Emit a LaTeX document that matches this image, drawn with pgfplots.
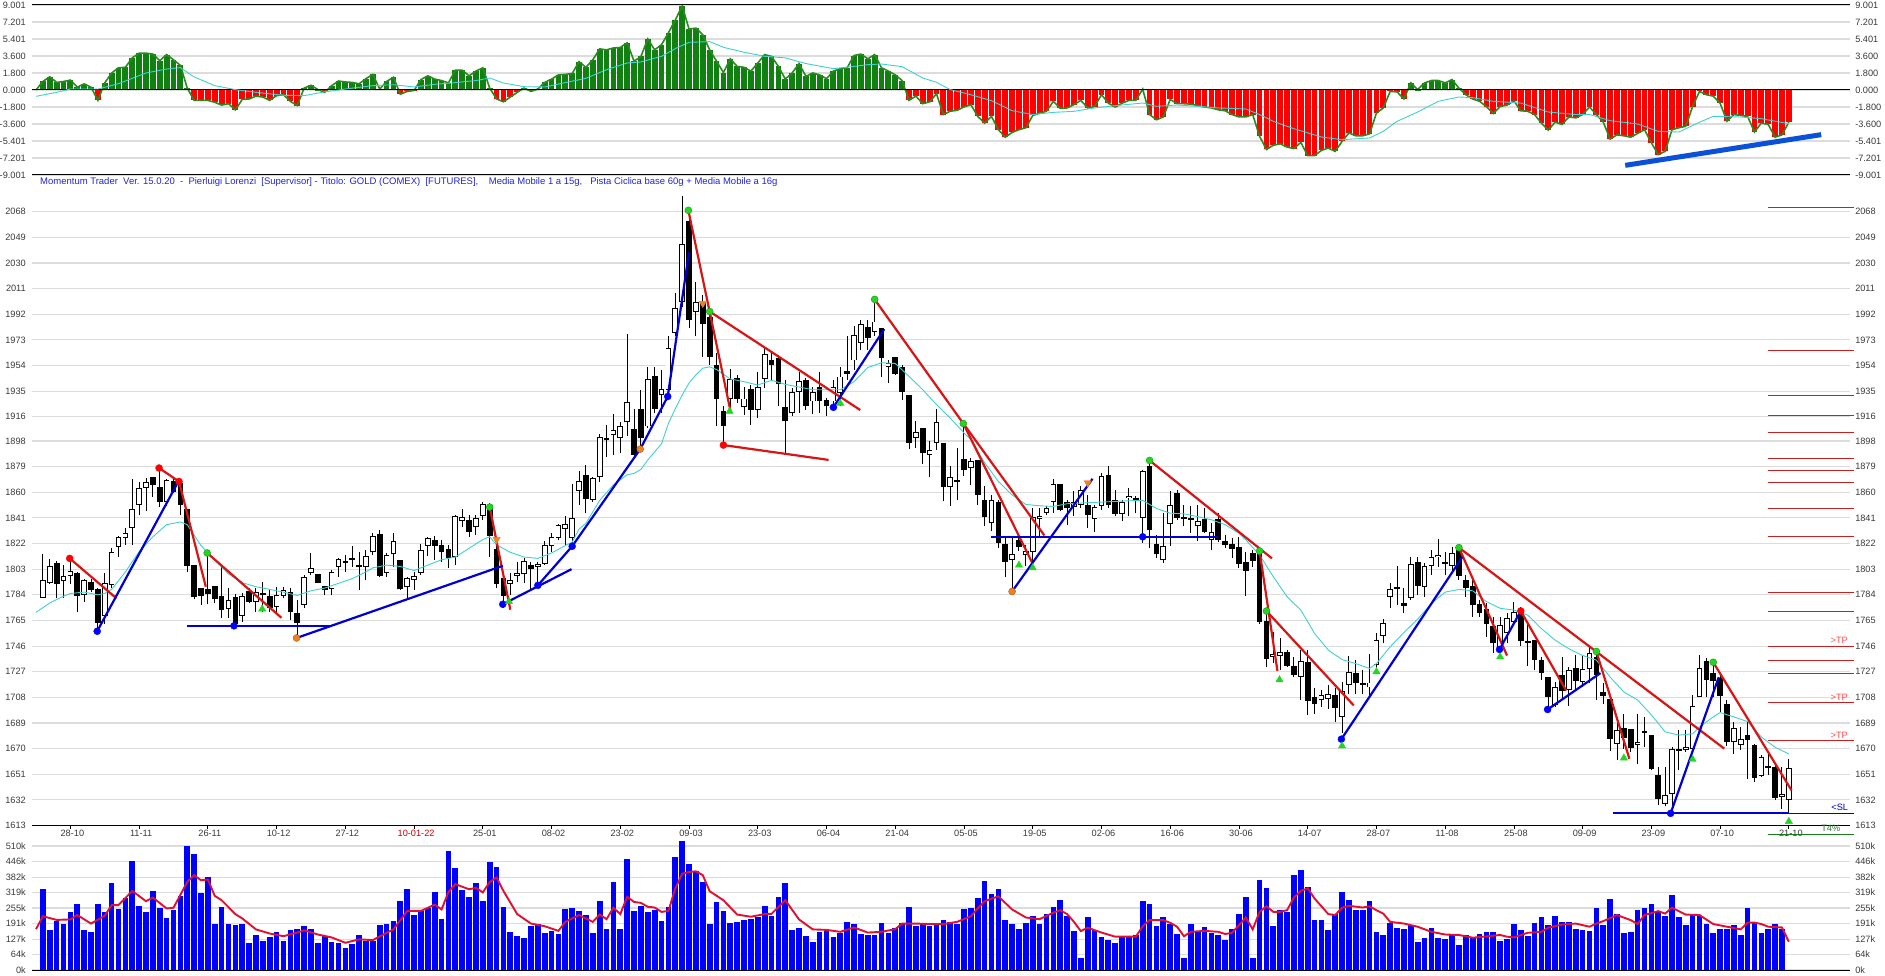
\documentclass[border=0pt]{standalone}
\usepackage{fontspec}
\setmainfont{Liberation Sans}
\usepackage{pgfplots}
\usepackage{pgfplotstable}
\pgfplotsset{compat=1.18}
\definecolor{gridc}{HTML}{DCDCDC}
\definecolor{labc}{HTML}{3A3A3A}
\definecolor{mombar}{HTML}{108010}
\definecolor{momline}{HTML}{2A8A20}
\definecolor{mombad}{HTML}{FF0000}
\definecolor{cyanma}{HTML}{40D0D0}
\definecolor{tblue}{HTML}{0000D0}
\definecolor{tred}{HTML}{D81414}
\definecolor{fatblue}{HTML}{0B50D8}
\definecolor{dgreen}{HTML}{22D622}
\definecolor{dorange}{HTML}{F08020}
\definecolor{headc}{HTML}{2424C8}
\definecolor{tpred}{HTML}{C82020}
\definecolor{volred}{HTML}{E01030}
\definecolor{tfour}{HTML}{1D7A1D}

% ---------- momentum ----------
\pgfplotstableread[row sep=\\]{i v\\
-1 0\\0 0.9\\1 1.4\\2 0.8\\3 0.9\\4 1.05\\5 0.3\\6 0.65\\7 0.3\\8 -1.1\\9 0.75\\10 1.8\\11 2.35\\12 2.4\\13 3.4\\14 3.9\\15 3.9\\16 3.8\\17 3.1\\18 3.75\\19 3.2\\20 2.6\\21 0.2\\22 -1.1\\23 -1.1\\24 -1.1\\25 -1.3\\26 -1.6\\27 -1.45\\28 -2.1\\29 -1.0\\30 -0.95\\31 -0.65\\32 -0.75\\33 -1.1\\34 -0.6\\35 -0.5\\36 -1.2\\37 -1.65\\38 0.2\\39 0.5\\40 0.05\\41 -0.25\\42 0.45\\43 0.95\\44 0.85\\45 0.8\\46 0.65\\47 1.2\\48 1.65\\49 0.1\\50 0.9\\51 1.35\\52 -0.45\\53 -0.15\\54 -0.05\\55 1.1\\56 1.5\\57 1.15\\58 1.0\\59 0.75\\60 2.1\\61 2.1\\62 1.5\\63 2.0\\64 2.35\\65 0.2\\66 -0.95\\67 -1.25\\68 -0.75\\69 -0.25\\70 0.2\\71 -0.15\\72 0.1\\73 0.8\\74 1.15\\75 1.6\\76 1.65\\77 1.75\\78 3.0\\79 2.4\\80 3.2\\81 4.35\\82 4.25\\83 4.45\\84 4.5\\85 5.0\\86 3.05\\87 3.55\\88 5.4\\89 4.25\\90 4.8\\91 6.05\\92 7.4\\93 8.9\\94 6.45\\95 6.55\\96 5.85\\97 4.25\\98 3.05\\99 1.85\\100 3.3\\101 2.5\\102 2.4\\103 2.0\\104 2.85\\105 3.75\\106 3.55\\107 2.5\\108 1.15\\109 1.8\\110 2.8\\111 1.45\\112 1.8\\113 1.6\\114 1.2\\115 2.0\\116 2.25\\117 2.35\\118 3.65\\119 3.8\\120 3.3\\121 3.75\\122 2.35\\123 2.0\\124 1.6\\125 1.0\\126 -1.1\\127 -0.65\\128 -1.45\\129 -1.25\\130 -0.4\\131 -2.6\\132 -2.25\\133 -2.15\\134 -1.8\\135 -1.55\\136 -2.8\\137 -3.5\\138 -2.8\\139 -4.2\\140 -5.0\\141 -4.5\\142 -4.2\\143 -4.0\\144 -2.7\\145 -2.45\\146 -2.25\\147 -1.2\\148 -1.95\\149 -1.9\\150 -1.55\\151 -1.1\\152 -1.9\\153 -1.75\\154 -0.5\\155 -1.4\\156 -1.8\\157 -1.4\\158 -1.1\\159 -1.1\\160 0.1\\161 -2.6\\162 -3.15\\163 -2.85\\164 -1.0\\165 -1.45\\166 -1.45\\167 -1.5\\168 -1.65\\169 -1.8\\170 -1.9\\171 -2.1\\172 -2.2\\173 -2.6\\174 -2.85\\175 -2.85\\176 -2.6\\177 -4.9\\178 -6.3\\179 -5.85\\180 -5.7\\181 -6.05\\182 -6.2\\183 -5.55\\184 -6.95\\185 -6.95\\186 -6.4\\187 -6.15\\188 -6.5\\189 -5.45\\190 -4.55\\191 -4.85\\192 -4.85\\193 -4.65\\194 -2.45\\195 -1.9\\196 -0.15\\197 -0.2\\198 -0.95\\199 0.75\\200 0.05\\201 0.75\\202 1.0\\203 1.0\\204 0.75\\205 1.1\\206 0.2\\207 -0.5\\208 -0.95\\209 -1.2\\210 -1.75\\211 -2.5\\212 -1.75\\213 -1.6\\214 -1.15\\215 -2.2\\216 -2.25\\217 -2.6\\218 -3.5\\219 -4.25\\220 -3.4\\221 -3.65\\222 -2.85\\223 -2.95\\224 -2.6\\225 -1.8\\226 -2.6\\227 -3.4\\228 -5.2\\229 -4.75\\230 -4.85\\231 -5.0\\232 -4.6\\233 -4.2\\234 -5.6\\235 -6.85\\236 -6.5\\237 -4.2\\238 -4.0\\239 -3.85\\240 -1.75\\241 -0.15\\242 -0.5\\243 -0.65\\244 -1.4\\245 -3.3\\246 -2.6\\247 -2.7\\248 -2.8\\249 -4.45\\250 -3.5\\251 -3.65\\252 -5.0\\253 -4.75\\254 -3.4\\
}\mom

% ---------- volume (thousands) ----------
\pgfplotstableread[row sep=\\]{i v\\
0 332\\1 164\\2 201\\3 189\\4 238\\5 271\\6 164\\7 156\\8 271\\9 237\\10 357\\11 250\\12 295\\13 447\\14 262\\15 238\\16 324\\17 254\\18 213\\19 246\\20 303\\21 512\\22 476\\23 316\\24 381\\25 189\\26 258\\27 189\\28 185\\29 189\\30 111\\31 144\\32 119\\33 135\\34 156\\35 119\\36 164\\37 168\\38 180\\39 168\\40 111\\41 139\\42 115\\43 111\\44 90\\45 107\\46 144\\47 119\\48 119\\49 185\\50 189\\51 201\\52 283\\53 332\\54 226\\55 242\\56 254\\57 320\\58 209\\59 488\\60 418\\61 328\\62 299\\63 357\\64 283\\65 443\\66 422\\67 258\\68 156\\69 139\\70 131\\71 180\\72 189\\73 152\\74 160\\75 148\\76 250\\77 254\\78 242\\79 226\\80 152\\81 283\\82 168\\83 361\\84 168\\85 455\\86 242\\87 262\\88 238\\89 246\\90 201\\91 258\\92 463\\93 530\\94 435\\95 406\\96 361\\97 189\\98 279\\99 242\\100 193\\101 197\\102 205\\103 209\\104 216\\105 262\\106 221\\107 299\\108 357\\109 164\\110 172\\111 139\\112 115\\113 156\\114 164\\115 135\\116 152\\117 197\\118 189\\119 148\\120 144\\121 144\\122 193\\123 152\\124 172\\125 193\\126 258\\127 180\\128 189\\129 180\\130 189\\131 205\\132 197\\133 189\\134 250\\135 254\\136 295\\137 365\\138 312\\139 332\\140 205\\141 189\\142 168\\143 193\\144 221\\145 189\\146 230\\147 258\\148 287\\149 221\\150 160\\151 49\\152 217\\153 164\\154 135\\155 123\\156 111\\157 135\\158 135\\159 144\\160 283\\161 271\\162 180\\163 217\\164 189\\165 148\\166 49\\167 189\\168 160\\169 176\\170 152\\171 146\\172 123\\173 168\\174 230\\175 299\\176 49\\177 369\\178 336\\179 180\\180 246\\181 239\\182 390\\183 410\\184 340\\185 205\\186 205\\187 164\\188 230\\189 320\\190 287\\191 246\\192 246\\193 283\\194 156\\195 144\\196 193\\197 172\\198 168\\199 185\\200 115\\201 131\\202 172\\203 131\\204 127\\205 148\\206 103\\207 144\\208 135\\209 148\\210 156\\211 156\\212 119\\213 127\\214 189\\215 164\\216 139\\217 193\\218 217\\219 185\\220 221\\221 197\\222 197\\223 168\\224 164\\225 160\\226 254\\227 185\\228 291\\229 232\\230 152\\231 156\\232 246\\233 254\\234 271\\235 238\\236 221\\237 308\\238 217\\239 185\\240 226\\241 221\\242 189\\243 152\\244 168\\245 168\\246 185\\247 144\\248 254\\249 197\\250 152\\251 168\\252 189\\253 168\\
}\vol

% ---------- candles ----------
\pgfplotstableread[row sep=\\]{i o h l c\\
0 1782 1814 1782 1795\\1 1792.5 1810.6 1791.8 1805.4\\3 1794 1806 1781.4 1797.7\\4 1797.7 1811 1792 1801.4\\6 1784 1796 1779 1795\\9 1768 1800 1762 1792.5\\10 1791.3 1819 1789 1815.7\\11 1819.5 1827.6 1812.3 1826.8\\12 1826.1 1833.8 1820.9 1829.6\\13 1833.3 1869.8 1820.9 1847.6\\14 1850.3 1867.8 1843.1 1862.9\\15 1863.1 1870.8 1846.1 1867.6\\18 1853 1869.6 1850 1869.1\\27 1773.5 1788.8 1766.6 1780.2\\29 1768.3 1785.1 1764.1 1783.2\\31 1778.5 1788.8 1771.6 1786.4\\34 1774.8 1790 1771.6 1783.9\\35 1783.2 1790 1781.4 1787.6\\38 1776.5 1798.7 1774 1797.5\\39 1800.2 1815.3 1798.7 1803.9\\42 1788 1802.4 1783.9 1800.9\\43 1804.6 1811.6 1797.5 1810.6\\47 1804.4 1817.2 1795 1812.8\\48 1815.5 1830.1 1813.5 1827.6\\50 1800 1814.8 1797.5 1813.5\\51 1814 1830.1 1804.9 1823.9\\53 1789.6 1797.5 1781.4 1796.5\\54 1794.8 1801.2 1787.6 1797.7\\55 1800 1821.4 1798.7 1817.2\\56 1820.2 1827.1 1813 1826.4\\60 1812 1843.1 1806.1 1842.4\\61 1838.7 1847.6 1834.5 1841.7\\63 1834.3 1843.1 1828.3 1841\\64 1842.4 1853 1839.5 1851\\68 1792 1800 1783.9 1794.8\\69 1798 1808.6 1793.8 1800.2\\70 1799.5 1811 1792.5 1809.1\\72 1804.6 1808.6 1788.8 1806.9\\73 1806.9 1823.9 1806.1 1820.9\\74 1820.2 1829.6 1816 1826.6\\75 1825.9 1836.2 1824.6 1835.5\\76 1832.8 1842.6 1820.9 1836.2\\77 1826.4 1866.1 1820.9 1840.7\\78 1860.9 1876 1850.6 1868.3\\80 1854.3 1871.5 1853 1870.6\\81 1871.3 1903.2 1867.8 1900.9\\83 1902.4 1917.7 1887.6 1905.9\\84 1900.2 1912.3 1888.8 1909.1\\85 1911.8 1977.4 1901.4 1926.8\\88 1908.8 1953.2 1907.6 1943.9\\90 1932 1950.8 1918.7 1936.4\\91 1936 1975.5 1933.5 1966.8\\92 1978.4 2007.6 1975.5 1996.4\\93 2001.4 2079.6 1997.7 2043.8\\95 1993.5 2016.2 1975.5 2000.9\\100 1929 1951.3 1918.7 1943.9\\102 1922.9 1938.4 1917.4 1929.5\\104 1921.1 1949.5 1915 1937.9\\105 1944.1 1966.8 1937.2 1962.4\\109 1918.7 1937.2 1916.2 1934.2\\110 1934.2 1949.5 1918.7 1942.6\\112 1927.3 1938.4 1918.2 1934.2\\115 1927.3 1943.4 1921.1 1937.9\\116 1933.5 1953.2 1923.6 1945.8\\118 1957.7 1983.6 1950.8 1976.7\\119 1971 1987.8 1965.6 1985\\121 1978.7 2000.1 1975.5 1986.6\\123 1952.7 1958.2 1940.9 1955.7\\127 1900.2 1912.5 1892.7 1904.6\\129 1887.6 1897.7 1871 1891.5\\130 1896.5 1921.6 1891.5 1912\\132 1863.9 1879.2 1849.5 1871\\135 1878 1885.3 1865.6 1883.4\\138 1837 1858.2 1831 1854.2\\141 1809.5 1827.3 1786.6 1814.5\\143 1813.2 1821.1 1805.1 1816.2\\144 1815.7 1848.3 1807.6 1841.6\\145 1839.9 1848.3 1827.3 1842.4\\146 1844.4 1849.5 1843.4 1848.3\\147 1852.5 1870 1844.6 1866.1\\150 1848.8 1860.6 1842.1 1852.5\\151 1850.8 1864.4 1848.3 1861.4\\153 1840.2 1850.8 1830.3 1849\\154 1850 1874.2 1847.1 1871.8\\157 1843.9 1854.5 1838.4 1852.7\\158 1855.7 1863.1 1842.1 1857.4\\160 1840.9 1876.7 1822.4 1875.5\\163 1809.5 1844.6 1807.6 1819.9\\164 1836.4 1860.6 1819.9 1850.3\\168 1834.7 1850.8 1823.6 1838.7\\170 1824.4 1837.2 1817.4 1830.5\\179 1737.6 1756.6 1733.1 1740\\180 1739 1751.7 1728.2 1741.8\\183 1723.2 1743 1705.9 1735.1\\186 1706.4 1713.3 1701 1709.9\\187 1707.1 1717 1699.7 1710.6\\189 1693.5 1719.5 1681.2 1712.8\\190 1717.5 1738.6 1710.8 1726.9\\193 1715.3 1739.8 1709.6 1719\\194 1731.9 1755.4 1725.7 1750.2\\195 1753.7 1765.8 1748 1762.8\\196 1782.6 1792.5 1774.5 1788.1\\199 1781.9 1812.3 1780.2 1807.1\\201 1790 1807.4 1782.6 1805.1\\202 1805.6 1817.3 1798.7 1812.3\\203 1811.8 1825.2 1804.9 1813.8\\205 1805.1 1819.8 1801.2 1815.3\\212 1745.5 1767.3 1740.6 1761.3\\213 1755.4 1770.3 1748 1766.5\\214 1764 1778.9 1762.8 1771.5\\220 1702.2 1719.5 1701 1715.8\\222 1713.3 1730.6 1701.4 1728.2\\224 1719.5 1739.3 1715.8 1728.7\\225 1728.7 1745.5 1718.3 1740.6\\229 1673.7 1693.5 1661.3 1683.6\\232 1673 1696 1658.9 1675\\236 1629.2 1656.4 1627.2 1635.9\\237 1636.6 1671.3 1621.7 1670\\239 1669.3 1683.6 1667.5 1671.3\\240 1670 1709.6 1668.8 1701.7\\241 1708.4 1739.3 1708.4 1729.9\\246 1675 1689.8 1666.3 1685.4\\247 1673 1686.1 1668.8 1677.2\\250 1649.7 1665 1649 1663.8\\253 1634.4 1656.4 1625.5 1636.6\\254 1632.2 1662.6 1621.7 1655.9\\
}\upc
\pgfplotstableread[row sep=\\]{i o h l c\\
2 1807.6 1809 1781.4 1791.8\\5 1800 1801 1771 1783\\7 1793.5 1796 1786.4 1787.6\\8 1788.3 1789 1759 1763\\16 1871.3 1871.3 1856.7 1865.4\\17 1864.1 1876.5 1849.3 1852.5\\19 1868.3 1870.3 1859.2 1860\\20 1867.1 1868.3 1843.1 1850.6\\21 1847.6 1847.6 1801.2 1805.1\\22 1806.1 1806.1 1780.7 1782.2\\23 1789.3 1789.3 1776.5 1782.9\\24 1788.3 1814.8 1777 1784.4\\25 1790.8 1790.8 1777.7 1780.7\\26 1783.2 1804.9 1767.1 1772.5\\28 1782.7 1784.4 1759.2 1762.2\\30 1787.1 1788.8 1777.7 1778.5\\32 1785 1793.8 1771.6 1783.5\\33 1783.2 1787.6 1771.6 1774.5\\36 1786.4 1788.8 1765.4 1771\\37 1770.8 1780.2 1751.8 1762.9\\40 1799.5 1799.5 1792.5 1793\\41 1790.6 1790.6 1783.9 1787.4\\44 1809.1 1813.5 1801.2 1807.4\\45 1811.3 1820.4 1804.9 1809.6\\46 1805.9 1816 1787.6 1804.4\\49 1829.1 1832 1797 1798.2\\52 1810.1 1810.1 1787.6 1788.1\\57 1824.9 1827.6 1809.8 1820\\58 1821 1824.6 1808.6 1815.5\\59 1818 1821 1803.7 1811\\62 1839.7 1843.1 1827.1 1830.3\\65 1850.6 1851.8 1812.3 1827.8\\66 1818.2 1820.9 1788.8 1791.8\\67 1796.7 1797.5 1774 1783.4\\71 1806.1 1808.6 1787.6 1802.9\\79 1872.8 1880.2 1844.4 1854.8\\82 1900.2 1909.8 1886.4 1898.5\\86 1906.8 1921.9 1886.6 1887.8\\87 1921.6 1936 1894 1900.6\\89 1946.3 1953.2 1918.7 1921.9\\94 2061.4 2065.6 1981.6 1987.8\\96 2001.1 2006.3 1960.6 1985.1\\97 1990.3 1996.4 1954.5 1960.6\\98 1954.5 1963.1 1908.8 1929.3\\99 1920.4 1923.6 1894.7 1909.3\\101 1944.6 1947 1926.1 1929.3\\103 1936.4 1939.7 1910 1921.1\\106 1958.2 1964.3 1943.4 1954.5\\107 1959.4 1961.9 1923.6 1940.2\\108 1923.1 1943.4 1888.5 1912.5\\111 1943.4 1944.6 1921.1 1923.6\\113 1937.9 1948.8 1918.7 1927.3\\114 1928.5 1929.8 1916.2 1923.6\\117 1949.8 1975.5 1943.4 1948\\120 1982.4 1987.8 1965.6 1974.7\\122 1981.6 1981.6 1945.8 1959.2\\124 1960.1 1960.1 1947 1948\\125 1953.2 1954.5 1928.5 1934.7\\126 1932.3 1932.3 1892 1896.5\\128 1907.6 1907.6 1881.1 1888.8\\131 1896.5 1896.5 1853.2 1863.6\\133 1869.3 1892.7 1854.5 1867.8\\134 1884.6 1908.8 1871.8 1876.2\\136 1884.1 1884.1 1850.8 1858.2\\137 1854.2 1864.4 1834.7 1841.4\\139 1852.5 1854.5 1818.7 1822.4\\140 1821.9 1827.3 1797.2 1808\\142 1824.8 1827.8 1816.2 1819.2\\148 1866.3 1866.3 1845.8 1846.6\\149 1852.5 1854.5 1836 1848\\152 1850.3 1858.2 1833.5 1842.9\\155 1873 1879.2 1848.3 1850.8\\156 1854 1861.9 1842.1 1843.6\\159 1855.7 1857 1844.6 1853.5\\161 1879.7 1885.3 1818.7 1831.8\\162 1821.9 1828.5 1811.3 1814\\165 1859.4 1861.9 1839.7 1840.6\\166 1841.4 1850.8 1834.7 1840\\167 1840.9 1849.5 1829.8 1839.2\\169 1840.4 1848.3 1829.8 1830.3\\171 1840.3 1844.5 1823.5 1824.7\\172 1823.7 1828.4 1818.5 1821.2\\173 1821.5 1826 1811.1 1817.8\\174 1819.5 1827.2 1803.7 1807.1\\175 1808.4 1816 1783.4 1801.9\\176 1815 1817.3 1804.9 1809.1\\177 1816 1817.3 1762.3 1764\\178 1764.3 1772.7 1730.6 1736.6\\181 1741.5 1743 1730.6 1731.4\\182 1731.6 1738 1723.2 1724.7\\184 1733.9 1743 1694.8 1705.2\\185 1707.9 1714.6 1696 1703.2\\188 1709.4 1714.6 1689.8 1700.2\\191 1726.4 1735.6 1710.8 1718.8\\192 1718.5 1728.2 1710.8 1717\\197 1790 1805.4 1776.4 1788.5\\198 1777.7 1788.8 1770.2 1776\\200 1808.1 1812.3 1783.9 1790.8\\204 1808.3 1816 1798.7 1806.9\\206 1817.3 1819.8 1795 1798.2\\207 1795.2 1798.7 1782.6 1789\\208 1790.8 1796.2 1767.8 1776.4\\209 1777.2 1780.2 1767.8 1770.7\\210 1773.2 1777.7 1752.9 1762.3\\211 1760.8 1767.8 1741 1748\\215 1772.7 1775.2 1746 1749.7\\216 1749.6 1762.8 1731.1 1748.1\\217 1750.4 1750.4 1728.2 1735.6\\218 1735.6 1738 1720.7 1726.2\\219 1723 1723.2 1699.7 1708.4\\221 1724.5 1738 1705.9 1712.8\\223 1729.4 1739.3 1713.3 1720.3\\226 1738.1 1743 1705.9 1724.5\\227 1712.1 1718.3 1703.4 1709.1\\228 1707.1 1707.1 1668.3 1677.2\\230 1685.6 1696 1670 1677.9\\231 1684.9 1684.9 1667.5 1670.5\\233 1682.9 1693.5 1671.3 1681.2\\234 1679.9 1679.9 1654.4 1655.2\\235 1650.7 1656.4 1627.9 1632.9\\238 1669.7 1683.6 1653.9 1668.2\\242 1734.9 1736.8 1708.4 1720.5\\243 1725.7 1735.6 1708.4 1720\\244 1722 1724.5 1697.2 1709.1\\245 1703.4 1705.9 1671.8 1675\\248 1680.4 1689.8 1647.7 1676.2\\249 1673 1673.7 1645.3 1648.2\\251 1656.9 1666.3 1650.2 1655.4\\252 1656.4 1657.6 1631.7 1633.4\\
}\downc

\pgfplotsset{
  lab/.style={font=\fontsize{9.2}{10}\selectfont, text=labc, inner sep=0pt},
  panel/.style={scale only axis, width=1818pt, xmin=-1.586, xmax=262.9, clip=false,
    axis x line*=bottom, axis y line*=left,
    y axis line style={draw=none}, ytick style={draw=none}, xtick=\empty,
    major tick length=0pt,
    ymajorgrids, grid style={gridc, line width=1.1pt},
    axis line style={-, black, line width=1pt},
    yticklabel style={lab, anchor=east, xshift=-6pt}},
  rpanel/.style={scale only axis, width=1818pt, xmin=-1.586, xmax=262.9,
    axis x line=none, axis y line*=right,
    y axis line style={draw=none}, ytick style={draw=none},
    major tick length=0pt,
    yticklabel style={lab, anchor=west, xshift=5pt}},
  pricey/.style={ymin=1613, ymax=2091.5,
    ytick={1613,1632,1651,1670,1689,1708,1727,1746,1765,1784,1803,1822,1841,1860,1879,1898,1916,1935,1954,1973,1992,2011,2030,2049,2068},
    yticklabels={1613,1632,1651,1670,1689,1708,1727,1746,1765,1784,1803,1822,1841,1860,1879,1898,1916,1935,1954,1973,1992,2011,2030,2049,2068}},
  rl/.style={tred, line width=2.2pt},
  bl/.style={tblue, line width=2.2pt},
  dotr/.style={only marks, mark=*, mark size=3.5pt, mark options={fill=red, draw=red}},
  dotg/.style={only marks, mark=*, mark size=3.5pt, mark options={fill=dgreen, draw=dgreen!70!black}},
  dotb/.style={only marks, mark=*, mark size=3.5pt, mark options={fill=blue, draw=blue}},
  doto/.style={only marks, mark=*, mark size=3.5pt, mark options={fill=dorange, draw=dorange!70!black}},
  tug/.style={only marks, mark=triangle*, mark size=4.2pt, mark options={fill=dgreen, draw=dgreen}},
  tdo/.style={only marks, mark=triangle*, mark size=4.2pt, mark options={fill=dorange, draw=dorange, rotate=180}},
  bars/.style={draw=none, /pgfplots/error bars/y dir=plus, /pgfplots/error bars/y explicit, /pgfplots/error bars/error mark=none, /pgfplots/error bars/error bar style={#1}},
}

\begin{document}
\begin{tikzpicture}[x=1pt,y=1pt]
\path[use as bounding box] (0,0) rectangle (1885pt,975pt);

% ================= momentum panel =================
\begin{axis}[panel, at={(32pt,800pt)}, anchor=south west, height=170pt,
  ymin=-9.001, ymax=9.001,
  ytick={-9.001,-7.201,-5.401,-3.6,-1.8,0,1.8,3.6,5.401,7.201,9.001},
  yticklabels={-9.001,-7.201,-5.401,-3.600,-1.800,0.000,1.800,3.600,5.401,7.201,9.001}]
\addplot[ycomb, mombar, line width=5.8pt, restrict y to domain=0:20] table[x=i,y=v] {\mom};
\addplot[ycomb, mombad, line width=5.8pt, restrict y to domain=-20:0] table[x=i,y=v] {\mom};
\addplot[momline, line width=1.6pt] table[x=i,y=v] {\mom};
\addplot[black, line width=1pt] coordinates {(-1.586,0)(262.9,0)};
\addplot[black, line width=1pt] coordinates {(-1.586,9.001)(262.9,9.001)};
\addplot[cyanma, line width=0.9pt] coordinates {(-1,-0.67)(2,-0.25)(4,0.1)(8,0.1)(11,0.67)(15,1.8)(18,2.22)(20,2.37)(22,1.38)(25,0.46)(28,0.04)(31,-0.25)(35,-0.56)(38,-0.6)(41,-0.2)(44,0.1)(48,0.46)(51,0.56)(54,0.32)(57,0.6)(60,0.78)(63,1.0)(65,1.27)(67,0.74)(70,0.35)(73,0.32)(76,0.78)(79,1.24)(82,2.15)(85,2.86)(87,2.97)(90,3.57)(92,4.38)(94,5.05)(97,5.12)(99,4.52)(102,4.0)(105,3.57)(108,3.4)(111,2.8)(115,2.26)(118,2.5)(120,2.68)(122,2.75)(125,2.47)(128,1.27)(130,0.81)(132,0.04)(135,-0.5)(138,-1.13)(141,-2.19)(144,-2.6)(147,-2.37)(150,-2.26)(153,-1.9)(156,-1.66)(160,-1.38)(162,-1.73)(165,-1.59)(168,-1.73)(171,-1.9)(175,-2.01)(177,-2.6)(179,-3.32)(182,-4.1)(186,-4.98)(189,-5.26)(193,-5.08)(195,-4.38)(197,-3.32)(200,-2.33)(203,-1.2)(206,-0.74)(208,-0.81)(211,-1.2)(215,-1.38)(219,-2.33)(223,-2.6)(225,-2.6)(228,-3.25)(232,-3.6)(235,-4.38)(238,-4.45)(241,-3.42)(243,-2.79)(247,-2.86)(250,-3.04)(254,-3.57)};
\addplot[fatblue, line width=5pt] coordinates {(230.2,-7.98)(258.7,-4.73)};
\end{axis}
\begin{axis}[rpanel, at={(32pt,800pt)}, anchor=south west, height=170pt,
  ymin=-9.001, ymax=9.001,
  ytick={-9.001,-7.201,-5.401,-3.6,-1.8,0,1.8,3.6,5.401,7.201,9.001},
  yticklabels={-9.001,-7.201,-5.401,-3.600,-1.800,0.000,1.800,3.600,5.401,7.201,9.001}]
\end{axis}

\node[anchor=west, inner sep=0pt, text=headc, font=\fontsize{9.5}{10}\selectfont] at (40pt,793pt)
 {Momentum Trader\ \ Ver. 15.0.20\ \ -\ \ Pierluigi Lorenzi\ \ [Supervisor] - Titolo: GOLD (COMEX)\ \ [FUTURES],\ \ \ \ Media Mobile 1 a 15g,\ \ \ Pista Ciclica base 60g + Media Mobile a 16g};

% ================= price panel =================
\begin{axis}[panel, pricey, at={(32pt,149.5pt)}, anchor=south west, height=645.5pt,
  major tick length=3pt, tick align=outside,
  yticklabel style={xshift=3pt},
  xtick={4,14,...,254},
  xticklabels={28-10,11-11,26-11,10-12,27-12,\textcolor{red!80!black}{10-01-22},25-01,08-02,23-02,09-03,23-03,06-04,21-04,05-05,19-05,02-06,16-06,30-06,14-07,28-07,11-08,25-08,09-09,23-09,07-10,21-10},
  xtick style={draw=black, line width=0.8pt},
  xticklabel style={lab, anchor=center, yshift=-5pt, xshift=2pt}]

% wicks
\addplot[bars={black, line width=1pt}] table[x=i,y=l,y error plus expr=\thisrow{h}-\thisrow{l}] {\upc};
\addplot[bars={black, line width=1pt}] table[x=i,y=l,y error plus expr=\thisrow{h}-\thisrow{l}] {\downc};
% bodies
\addplot[bars={black, line width=5.7pt}] table[x=i,y=c,y error plus expr=\thisrow{o}-\thisrow{c}] {\downc};
\addplot[bars={black, line width=5.7pt}] table[x=i,y=o,y error plus expr=\thisrow{c}-\thisrow{o}] {\upc};
\addplot[bars={white, line width=3.9pt}] table[x=i,y expr=\thisrow{o}+0.7,y error plus expr=\thisrow{c}-\thisrow{o}-1.4] {\upc};

% moving average
\addplot[cyanma, line width=0.9pt] coordinates {(-1,1771)(1,1778)(3,1783)(4,1785)(6,1786)(8,1784)(9,1785)(10,1788)(12,1801)(14,1816)(16,1827)(18,1836)(20,1838)(21,1836)(23,1820.5)(25,1810)(27,1799.5)(29,1793)(31,1790)(33,1788)(35,1786)(37,1783.5)(39,1787)(41,1789)(43,1792.5)(45,1796)(47,1801)(48,1804)(50,1806)(52,1805)(54,1802)(56,1806)(58,1810)(60,1812)(62,1818.5)(64,1825)(65,1827)(66,1821)(68,1815.5)(70,1812)(72,1811)(74,1815)(76,1820.5)(77,1823)(78,1832.7)(79,1837)(81,1854)(83,1865.5)(85,1873)(86,1874)(87,1877)(88,1884)(90,1896)(91,1911)(92,1922)(93,1932)(94,1941)(95,1947)(96,1952)(97,1953)(98,1951)(100,1944)(102,1942)(104,1939.5)(106,1943)(108,1940)(110,1938)(112,1936)(114,1936)(116,1936)(118,1942)(120,1952.5)(122,1956)(124,1955.5)(126,1946)(128,1936)(130,1925)(132,1915)(134,1904)(135,1899)(137,1882)(139,1868)(141,1858)(143,1851)(145,1850)(147,1849.5)(149,1851.5)(151,1852)(153,1852.5)(155,1853)(158,1853.7)(160,1854)(162,1848)(164,1844.5)(166,1844)(168,1842)(170,1839.6)(172,1836)(174,1829.6)(175,1824.7)(177,1813.5)(179,1797.4)(181,1782.6)(183,1772.7)(185,1755.4)(187,1743)(189,1736)(191,1733)(193,1729.4)(194,1733)(196,1745.5)(198,1756)(200,1766)(202,1777.6)(204,1786)(206,1788)(208,1787)(210,1779)(212,1774)(214,1772.7)(216,1769)(218,1759)(220,1750.4)(222,1744)(224,1739)(226,1735.6)(228,1723)(230,1712)(232,1706)(234,1695)(236,1682.4)(238,1680)(240,1681)(241,1686)(243,1693.5)(244,1696.7)(246,1693.5)(248,1690)(250,1678.6)(252,1671)(254,1666)};

% red trend lines
\addplot[rl] coordinates {(3.9,1811)(10.7,1781.4)};
\addplot[rl] coordinates {(16.9,1878)(19.8,1868)};
\addplot[rl] coordinates {(19.8,1868)(23.7,1790)};
\addplot[rl] coordinates {(23.9,1815)(34.7,1767)};
\addplot[rl] coordinates {(65,1849)(68,1773)};
\addplot[rl] coordinates {(93.9,2069)(100,1921)};
\addplot[rl] coordinates {(97,1994)(118.9,1921)};
\addplot[rl] coordinates {(99,1895)(114.3,1884)};
\addplot[rl] coordinates {(121,2003)(133.9,1911)(145.7,1828)};
\addplot[rl] coordinates {(133.9,1911)(143.9,1808)};
\addplot[rl] coordinates {(161,1883.6)(178.8,1811)};
\addplot[rl] coordinates {(177,1816.5)(179.6,1727.6)};
\addplot[rl] coordinates {(178,1772)(190.7,1702)};
\addplot[rl] coordinates {(206,1819)(213,1739)};
\addplot[rl] coordinates {(206,1819)(244.6,1670)};
\addplot[rl] coordinates {(215,1772)(221.6,1713)};
\addplot[rl] coordinates {(226,1742)(230.8,1662.5)};
\addplot[rl] coordinates {(243,1734)(254.4,1639)};
% blue trend lines
\addplot[bl] coordinates {(7.9,1757)(19.6,1867)};
\addplot[bl] coordinates {(20.9,1761)(42.1,1761)};
\addplot[bl] coordinates {(36.9,1752)(66.9,1805.5)};
\addplot[bl] coordinates {(66.9,1777)(76.9,1803)};
\addplot[bl] coordinates {(72,1791)(77,1820)(86.9,1892)(90.9,1931)};
\addplot[bl] coordinates {(90.9,1931)(94,2038)};
\addplot[bl] coordinates {(115,1923)(122.4,1981)};
\addplot[bl] coordinates {(141,1786.5)(152.7,1870)};
\addplot[bl] coordinates {(138,1827)(170.9,1827)};
\addplot[bl] coordinates {(188.9,1677)(206.5,1812)};
\addplot[bl] coordinates {(211.9,1743.5)(215,1772)};
\addplot[bl] coordinates {(218.9,1699)(226.6,1726)};
\addplot[bl] coordinates {(236.8,1622)(243.8,1723)};
\addplot[bl] coordinates {(228.4,1622)(254,1622)};
\addplot[tblue, line width=0.9pt] coordinates {(254,1622)(263.5,1622)};

% take-profit levels
\pgfplotsinvokeforeach{2071,1965,1932,1917,1904,1885,1876,1867,1848,1827,1786,1772,1746,1735,1726,1704,1676}{
  \addplot[tpred, line width=0.9pt] coordinates {(251,#1)(263.5,#1)};
}
\addplot[tfour, line width=0.9pt] coordinates {(251,1606.5)(263.5,1606.5)};

% markers
\addplot[dotr] coordinates {(3.9,1811)(16.9,1878)(19.8,1868)(99,1895)(215,1772)};
\addplot[dotg] coordinates {(23.9,1815)(65,1849)(93.9,2069)(97,1994)(121,2003)(133.9,1911)(161,1883.6)(177,1816.5)(178,1772)(206,1819)(226,1742)(243,1734)};
\addplot[dotb] coordinates {(7.9,1757)(27.8,1761)(66.9,1777)(72,1791)(77,1820)(90.9,1931)(115,1923)(160,1827)(188.9,1677)(211.9,1743.5)(218.9,1699)(236.8,1622)};
\addplot[doto] coordinates {(36.9,1752)(86.9,1892)(141,1786.5)};
\addplot[tug] coordinates {(31.9,1773.5)(67.8,1779)(99.9,1920)(116,1926)(142,1806)(144,1804)(179.9,1721)(189,1672)(194,1727)(212,1738)(230,1663)(240,1662)(254,1616)};
\addplot[tdo] coordinates {(66,1825)(96,2000)(152,1867)};

\node[anchor=south east, inner sep=0pt, text=red!70!white, font=\fontsize{9.2}{10}\selectfont] at (axis cs:262.6,1747.5) {>TP};
\node[anchor=south east, inner sep=0pt, text=red!70!white, font=\fontsize{9.2}{10}\selectfont] at (axis cs:262.6,1705.5) {>TP};
\node[anchor=south east, inner sep=0pt, text=red!70!white, font=\fontsize{9.2}{10}\selectfont] at (axis cs:262.6,1677.5) {>TP};
\node[anchor=center, inner sep=0pt, text=blue!80!black, font=\fontsize{9.2}{10}\selectfont] at (axis cs:261.4,1626.5) {<SL};
\node[anchor=center, inner sep=0pt, text=tfour!80!gray, font=\fontsize{9.2}{10}\selectfont] at (axis cs:260.1,1611) {T4\%};
\end{axis}
\begin{axis}[rpanel, pricey, at={(32pt,149.5pt)}, anchor=south west, height=645.5pt]
\end{axis}

% ================= volume panel =================
\begin{axis}[panel, at={(32pt,5pt)}, anchor=south west, height=124pt,
  ymin=0, ymax=510,
  ytick={0,64,127,191,255,319,382,446,510},
  yticklabels={0k,64k,127k,191k,255k,319k,382k,446k,510k}]
\addplot[ycomb, blue, line width=5.7pt] table[x=i,y=v] {\vol};
\addplot[volred, line width=1.9pt] coordinates {(-1,168)(0,221)(2,206)(4,208)(5,226)(7,191)(9,223)(10,267)(11,267)(13,325)(15,283)(16,298)(18,253)(19,256)(21,362)(22,390)(23,369)(24,372)(25,305)(26,287)(28,230)(29,212)(31,167)(33,150)(35,139)(37,154)(38,163)(40,146)(42,134)(44,112)(46,126)(48,123)(50,153)(51,167)(53,243)(55,243)(57,269)(58,249)(59,321)(60,353)(62,332)(63,338)(64,319)(65,362)(66,380)(67,325)(69,230)(71,191)(73,180)(75,161)(76,198)(78,226)(80,198)(81,228)(82,209)(83,256)(84,230)(85,301)(86,280)(87,276)(88,260)(89,257)(90,239)(91,243)(92,335)(93,396)(94,403)(95,406)(96,390)(97,324)(99,287)(101,228)(103,219)(105,230)(106,231)(108,287)(110,208)(112,167)(114,165)(116,157)(118,175)(120,154)(122,157)(124,168)(125,191)(127,191)(129,189)(131,189)(133,198)(135,221)(136,254)(137,283)(139,303)(141,249)(143,216)(145,209)(147,236)(148,246)(149,230)(150,198)(151,160)(152,174)(154,154)(156,137)(158,137)(159,137)(160,180)(161,205)(163,205)(164,194)(165,178)(166,139)(167,157)(169,161)(171,157)(172,148)(173,153)(175,216)(176,167)(177,239)(178,262)(179,239)(180,239)(181,246)(182,298)(183,325)(184,336)(185,294)(187,230)(188,226)(189,256)(190,264)(192,257)(193,262)(194,246)(195,232)(196,198)(198,191)(200,178)(202,157)(204,146)(206,144)(208,133)(210,138)(212,144)(213,137)(214,134)(216,153)(218,157)(219,174)(221,187)(223,191)(225,178)(226,191)(227,201)(229,226)(231,205)(232,189)(233,226)(235,242)(236,232)(237,256)(239,228)(241,226)(243,189)(245,178)(247,167)(248,195)(249,195)(250,189)(251,178)(253,175)(254,116)};
\end{axis}
\begin{axis}[rpanel, at={(32pt,5pt)}, anchor=south west, height=124pt,
  ymin=0, ymax=510,
  ytick={0,64,127,191,255,319,382,446,510},
  yticklabels={0k,64k,127k,191k,255k,319k,382k,446k,510k}]
\end{axis}
\end{tikzpicture}
\end{document}
